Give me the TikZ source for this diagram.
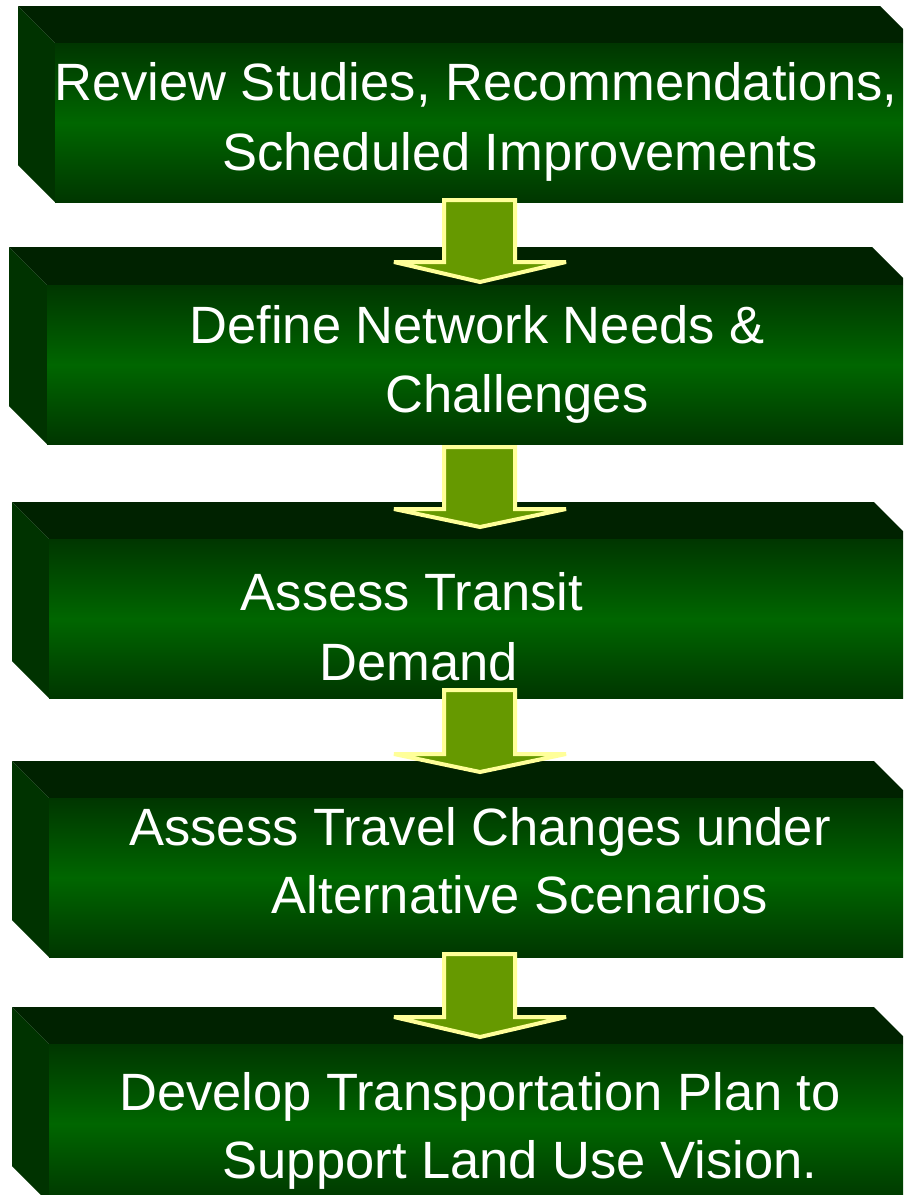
\documentclass[tikz,border=0pt]{standalone}
\usepackage{fontspec}
\setmainfont{Liberation Sans}
\definecolor{topface}{HTML}{002200}
\definecolor{sideface}{HTML}{003300}
\definecolor{frontdark}{HTML}{003600}
\definecolor{frontmid}{HTML}{006600}
\definecolor{arrowfill}{HTML}{669900}
\definecolor{arrowline}{HTML}{FFFF99}
\tikzset{
  topf/.style={fill=topface},
  sidef/.style={fill=sideface},
  frontf/.style={top color=frontdark, bottom color=frontdark, middle color=frontmid, draw=none, inner sep=0pt, anchor=north west, minimum height=159pt},
  lbl/.style={text=white, font=\fontsize{52.5}{60}\selectfont, anchor=base, inner sep=0pt},
  blockarrow/.style={fill=arrowfill, draw=arrowline, line width=4pt, line join=miter, miter limit=4}
}
\newcommand\mybox[5]{% name, bx, by, rx, d
  \fill[topf] (#2,#3) -- (#4,#3) -- (#4+#5,#3+#5) -- (#2+#5,#3+#5) -- cycle;
  \fill[sidef] (#2,#3) -- (#2+#5,#3+#5) -- (#2+#5,#3+#5+159) -- (#2,#3+159) -- cycle;
  \node[frontf, minimum width=#4-#2] (#1) at (#2+#5,#3+#5) {};
}
\newcommand\myarrow[3]{% ytop, ywing, ytip
  \draw[blockarrow] (444,#1+2) -- (515,#1+2) -- (515,#2+2) -- (566,#2+2) -- (480,#3-3) -- (394,#2+2) -- (444,#2+2) -- cycle;
}
\begin{document}
\begin{tikzpicture}[x=1pt,y=-1pt]
\useasboundingbox (0,0) rectangle (903,1195);
\clip (0,0) rectangle (903,1195);
\mybox{b1}{18}{6}{880}{37}
\mybox{b2}{9}{247}{872}{38}
\mybox{b3}{12}{502}{874}{37}
\mybox{b4}{12}{761}{874}{37}
\mybox{b5}{12}{1007}{874}{37}
\node[lbl] (t1a) at (476,100) {Review Studies, Recommendations,};
\node[lbl] (t1b) at (520,170) {Scheduled Improvements};
\node[lbl] (t2a) at (477,343) {Define Network Needs \&};
\node[lbl] (t2b) at (517,412) {Challenges};
\node[lbl] (t3a) at (412,610) {Assess Transit};
\node[lbl] (t3b) at (419,680) {Demand};
\node[lbl] (t4a) at (480,845) {Assess Travel Changes under};
\node[lbl] (t4b) at (520,913) {Alternative Scenarios};
\node[lbl] (t5a) at (480,1110) {Develop Transportation Plan to};
\node[lbl] (t5b) at (520,1178) {Support Land Use Vision.};
\myarrow{198}{260}{285}
\myarrow{445}{507}{530}
\myarrow{688}{752}{775}
\myarrow{952}{1015}{1040}
\end{tikzpicture}
\end{document}
